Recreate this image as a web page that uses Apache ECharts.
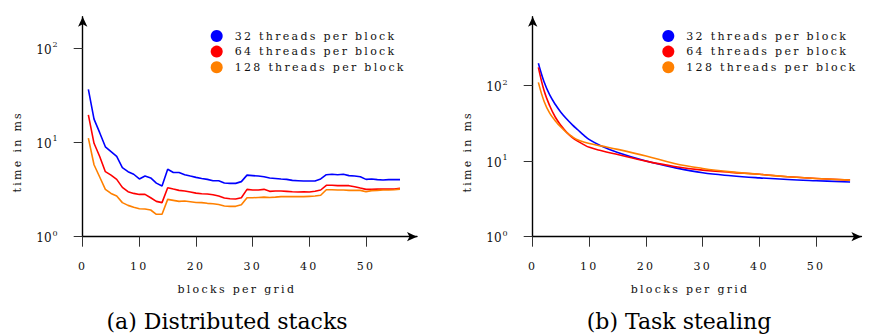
<!DOCTYPE html>
<html>
<head>
<meta charset="utf-8">
<script src="https://cdn.jsdelivr.net/npm/echarts@6/dist/echarts.min.js"></script>
<style>
html, body { margin: 0; padding: 0; background: #fff; }
#chart { width: 869px; height: 336px; }
/* small pgfplots text is widely tracked, captions and tick exponents are not */
#chart text { letter-spacing: 2.3px; }
#chart text[style*="22px"], #chart text[style*="12px"], #chart text[style*="8px"] { letter-spacing: 0; }
</style>
</head>
<body>
<div id="chart"></div>
<script>
const names = ['32 threads per block', '64 threads per block', '128 threads per block'];
const colors = ['#0000ff', '#ff0000', '#ff8000'];

// (a) distributed stacks, one value per block count
const stackBlocks = [1,2,3,4,5,6,7,8,9,10,11,12,13,14,15,16,17,18,19,20,21,22,23,24,25,26,27,28,
	29,30,31,32,33,34,35,36,37,38,39,40,41,42,43,44,45,46,47,48,49,50,51,52,53,54,55,56];
const stacks32 = [36.6,17.7,12.7,9.0,8.0,7.1,5.4,4.9,4.6,4.1,
	4.4,4.2,3.7,3.45,5.2,4.8,4.8,4.55,4.4,4.26,
	4.15,4.06,3.93,3.93,3.71,3.68,3.68,3.84,4.5,4.45,
	4.4,4.33,4.2,4.15,4.1,4.06,3.96,3.93,3.9,3.9,
	3.9,4.1,4.55,4.6,4.55,4.6,4.45,4.4,4.33,4.06,
	4.1,4.03,4.0,4.03,4.03,4.03];
const stacks64 = [19.6,9.8,7.1,4.9,4.5,4.06,3.34,3.0,2.88,2.81,
	2.81,2.59,2.37,2.3,3.31,3.2,3.1,3.05,2.98,2.9,
	2.86,2.84,2.79,2.7,2.57,2.53,2.51,2.59,3.18,3.13,
	3.13,3.18,3.03,3.05,3.05,3.03,3.0,2.98,3.0,2.98,
	3.03,3.13,3.51,3.51,3.48,3.48,3.48,3.39,3.28,3.18,
	3.18,3.2,3.2,3.2,3.2,3.26];
const stacks128 = [11.1,5.8,4.3,3.18,2.88,2.7,2.3,2.15,2.05,1.98,
	1.97,1.92,1.73,1.73,2.49,2.43,2.37,2.39,2.35,2.31,
	2.3,2.26,2.24,2.2,2.12,2.1,2.1,2.18,2.59,2.59,
	2.61,2.63,2.61,2.63,2.66,2.66,2.66,2.66,2.66,2.68,
	2.7,2.75,3.15,3.15,3.13,3.13,3.1,3.1,3.1,3.0,
	3.08,3.1,3.13,3.13,3.15,3.2];

// (b) task stealing, read at selected block counts
const stealBlocks = [1,2,3,4,5,6,7,8,9,10,12,15,20,25,30,35,40,45,50,56];
const steal32 = [197,112,75,56,44,36,30.2,25.8,22.1,19.2,16.0,13.0,10.0,8.2,7.0,6.4,6.0,5.7,5.5,5.3];
const steal64 = [174,86,54,38,29.5,24,20.5,18.2,16.5,15.2,13.8,12.2,10.0,8.5,7.6,7.1,6.7,6.2,5.9,5.6];
const steal128 = [110,62,43,34,28,23.8,21,19.0,17.9,17.1,15.9,14.3,11.7,9.3,8.0,7.2,6.7,6.2,5.9,5.6];

const xTicks = [0,10,20,30,40,50];
const yTicks = [1,10,100];
const supers = {1: '{b|10}{s|0}', 10: '{b|10}{s|1}', 100: '{b|10}{s|2}'};

const font = "'DejaVu Serif', serif";
const textColor = '#111';

function xAxis(grid, max, namePad) {
	return {
		type: 'value', gridIndex: grid, min: 0, max: max,
		name: 'blocks per grid', nameLocation: 'middle', nameGap: 47,
		nameTextStyle: {fontFamily: font, fontSize: 11, color: textColor, padding: namePad},
		axisLine: {lineStyle: {color: '#000', width: 1.4}, symbol: ['none', 'arrow'], symbolSize: [7, 10]},
		axisTick: {customValues: xTicks, length: 10, lineStyle: {color: '#333', width: 1}},
		axisLabel: {customValues: xTicks, margin: 24, fontFamily: font, fontSize: 11, color: textColor},
		splitLine: {show: false},
	};
}

function yAxis(grid, max) {
	return {
		type: 'log', logBase: 10, gridIndex: grid, min: 1, max: max,
		name: 'time in ms', nameLocation: 'middle', nameGap: 60, nameRotate: 90,
		nameTextStyle: {fontFamily: font, fontSize: 11, color: textColor, padding: [0, 50, 0, 0]},
		axisLine: {lineStyle: {color: '#000', width: 1.4}, symbol: ['none', 'arrow'], symbolSize: [7, 10]},
		axisTick: {customValues: yTicks, length: 9, lineStyle: {color: '#333', width: 1}},
		axisLabel: {customValues: yTicks, margin: 25, color: textColor,
			formatter: v => supers[v] || '',
			rich: {
				b: {fontFamily: font, fontSize: 12, color: textColor, verticalAlign: 'bottom', lineHeight: 15},
				s: {fontFamily: font, fontSize: 8, color: textColor, verticalAlign: 'top', lineHeight: 15, padding: [0, 0, 0, 1]},
			}},
		splitLine: {show: false},
	};
}

function legend(left) {
	return {
		left: left, top: 25, orient: 'vertical', icon: 'circle',
		itemWidth: 12, itemHeight: 12, itemGap: 3.6,
		textStyle: {fontFamily: font, fontSize: 11, color: textColor, padding: [0, 0, 0, 7]},
		data: names,
	};
}

const series = [];
[stacks32, stacks64, stacks128].forEach((vals, i) => {
	series.push({
		name: names[i], type: 'line', xAxisIndex: 0, yAxisIndex: 0,
		data: stackBlocks.map((b, j) => [b, vals[j]]),
		symbol: 'none', color: colors[i], lineStyle: {width: 1.6}, z: 2 + i,
	});
});
[steal32, steal64, steal128].forEach((vals, i) => {
	series.push({
		name: names[i], type: 'line', xAxisIndex: 1, yAxisIndex: 1, smooth: 0.4,
		data: stealBlocks.map((b, j) => [b, vals[j]]),
		symbol: 'none', color: colors[i], lineStyle: {width: 1.6}, z: 2 + i,
	});
});

const chart = echarts.init(document.getElementById('chart'), null, {renderer: 'svg'});
chart.setOption({
	animation: false,
	backgroundColor: '#fff',
	grid: [
		{left: 82.7, top: 16.7, width: 334.3, height: 220},
		{left: 532.7, top: 16.7, width: 328.7, height: 220},
	],
	xAxis: [xAxis(0, 59, [0, 26, 0, 0]), xAxis(1, 58, [0, 14, 0, 0])],
	yAxis: [yAxis(0, 216), yAxis(1, 813)],
	legend: [legend(205.7), legend(657.3)],
	graphic: [
		{type: 'text', x: 227, y: 321, style: {text: '(a) Distributed stacks', font: "22px 'DejaVu Serif'",
			fill: '#000', textAlign: 'center', textVerticalAlign: 'middle'}},
		{type: 'text', x: 679, y: 321, style: {text: '(b) Task stealing', font: "22px 'DejaVu Serif'",
			fill: '#000', textAlign: 'center', textVerticalAlign: 'middle'}},
	],
	series: series,
});
</script>
</body>
</html>
